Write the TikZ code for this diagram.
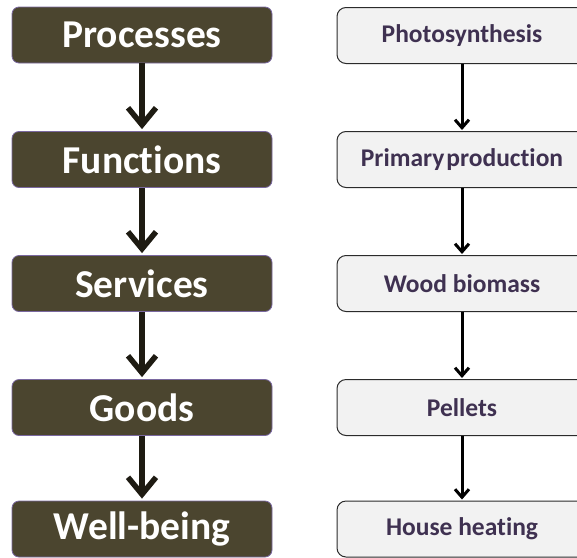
\documentclass[tikz,border=0pt]{standalone}
\usepackage{fontspec}
\setmainfont[Ligatures=NoCommon]{Carlito}
\usetikzlibrary{arrows.meta}
\definecolor{darkbox}{HTML}{4B452F}
\definecolor{darkedge}{HTML}{7A68A0}
\definecolor{lightbox}{HTML}{F2F2F2}
\definecolor{lightedge}{HTML}{2B2B2B}
\definecolor{purpletext}{HTML}{3F3151}
\definecolor{bigarrow}{HTML}{1E1B12}
\tikzset{
  leftbox/.style={draw=darkedge, line width=0.8pt, fill=darkbox, rounded corners=7pt,
    minimum width=260pt, minimum height=56pt, inner sep=0pt,
    text=white, font=\fontsize{39.5}{44}\selectfont\bfseries},
  rightbox/.style={draw=lightedge, line width=1pt, fill=lightbox, rounded corners=9pt,
    minimum width=250pt, minimum height=56pt, inner sep=0pt,
    text=purpletext, font=\fontsize{25.5}{28}\selectfont\bfseries},
  bigarr/.style={draw=bigarrow, line width=5.5pt,
    -{Straight Barb[length=17pt,width=28pt,line width=5.5pt]}},
  smallarr/.style={draw=black, line width=3pt,
    -{Straight Barb[length=8pt,width=14pt,line width=3pt]}}
}
\begin{document}
\begin{tikzpicture}[x=1pt,y=1pt]
\useasboundingbox (0,0) rectangle (577,-557);
\node[leftbox] (l1) at (142,-35) {Processes};
\node[leftbox] (l2) at (142,-159.5) {Functions};
\node[leftbox] (l3) at (142,-283.5) {Services};
\node[leftbox] (l4) at (142,-407.5) {Goods};
\node[leftbox] (l5) at (142,-529) {Well-being};
\node[rightbox] (r1) at (462,-35.5) {Photosynthesis};
\node[rightbox] (r2) at (462,-159.5) {Primary\hspace{0.08em}production};
\node[rightbox] (r3) at (462,-283.5) {Wood biomass};
\node[rightbox] (r4) at (462,-407.5) {Pellets};
\node[rightbox] (r5) at (462,-529) {House heating};
\foreach \a/\b in {l1/l2,l2/l3,l3/l4,l4/l5}{
  \draw[bigarr] (\a.south) -- ([yshift=2pt]\b.north);
}
\foreach \a/\b in {r1/r2,r2/r3,r3/r4,r4/r5}{
  \draw[smallarr] (\a.south) -- ([yshift=1pt]\b.north);
}
\end{tikzpicture}
\end{document}
